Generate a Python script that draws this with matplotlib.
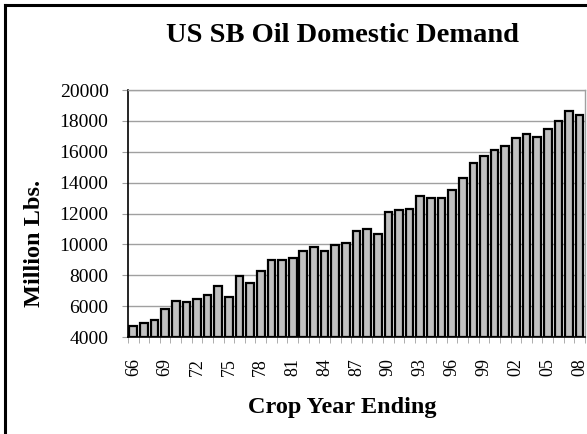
import matplotlib.pyplot as plt
import matplotlib.ticker as ticker
import numpy as np

plt.rcParams['font.family'] = ['Liberation Serif', 'DejaVu Serif']

years = ['66', '67', '68', '69', '70', '71', '72', '73', '74', '75',
         '76', '77', '78', '79', '80', '81', '82', '83', '84', '85',
         '86', '87', '88', '89', '90', '91', '92', '93', '94', '95',
         '96', '97', '98', '99', '00', '01', '02', '03', '04', '05',
         '06', '07', '08']
demand = [4710, 4890, 5120, 5790, 6360, 6290, 6490, 6720, 7290, 6590,
          7980, 7520, 8280, 8970, 8970, 9120, 9540, 9860, 9600, 9960,
          10110, 10890, 10980, 10650, 12110, 12200, 12300, 13110, 13000, 12980,
          13520, 14300, 15300, 15720, 16130, 16370, 16910, 17150, 16930, 17500,
          18020, 18650, 18410]

fig = plt.figure(figsize=(5.87, 4.34), dpi=100)
ax = fig.add_axes([0.218, 0.2235, 0.7785, 0.569])

x = np.arange(len(years))
ax.bar(x, np.array(demand) - 4000, bottom=4000, width=0.72,
       color='#c0c0c0', edgecolor='black', linewidth=1.6, zorder=3)

ax.set_xlim(-0.5, len(years) - 0.5)
ax.set_ylim(4000, 20000)
ax.yaxis.set_major_locator(ticker.MultipleLocator(2000))
ax.grid(axis='y', color='#a0a0a0', linewidth=1.0, zorder=0)

# labels on every third crop year, ticks on category boundaries
ax.set_xticks(x[::3])
ax.set_xticklabels(years[::3], rotation=90, fontsize=13)
ax.set_xticks(np.arange(len(years) + 1) - 0.5, minor=True)
ax.tick_params(axis='x', which='major', length=0, pad=15)
ax.tick_params(axis='x', which='minor', length=4, color='#a0a0a0', direction='out')
ax.tick_params(axis='y', length=4, color='#a0a0a0', labelsize=14, pad=10)

for side in ['top', 'right']:
    ax.spines[side].set_color('#a0a0a0')
    ax.spines[side].set_linewidth(1.0)
ax.spines['left'].set_color('black')
ax.spines['left'].set_linewidth(1.2)
ax.spines['bottom'].set_color('black')
ax.spines['bottom'].set_linewidth(1.2)

fig.text(0.583, 0.918, 'US SB Oil Domestic Demand', ha='center', va='center',
         fontsize=20.5, fontweight='bold')
fig.text(0.583, 0.062, 'Crop Year Ending', ha='center', va='center',
         fontsize=17.5, fontweight='bold')
fig.text(0.058, 0.44, 'Million Lbs.', ha='center', va='center', rotation=90,
         fontsize=17.5, fontweight='bold')

# outer chart frame
fig.add_artist(plt.Line2D([0.009, 1.0], [0.988, 0.988], color='black', linewidth=2.2,
                          transform=fig.transFigure))
fig.add_artist(plt.Line2D([0.009, 0.009], [0.0, 0.988], color='black', linewidth=2.2,
                          transform=fig.transFigure))

fig.savefig('out.png', dpi=100)
